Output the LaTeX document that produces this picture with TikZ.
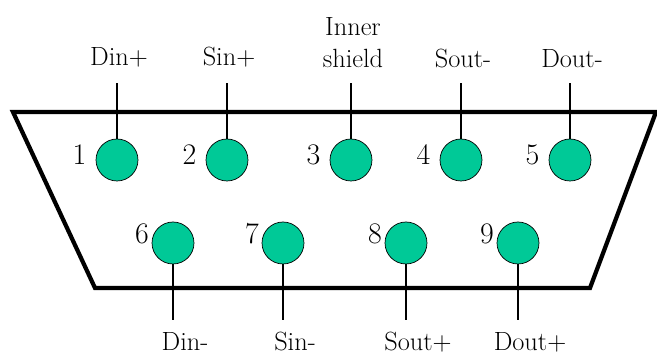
\documentclass[tikz,border=0pt]{standalone}
\usepackage{tikz}
\usetikzlibrary{positioning}

\definecolor{pingreen}{RGB}{0,201,151}

\begin{document}
\begin{tikzpicture}[x=0.02cm, y=-0.02cm,
    contact/.style={circle, draw=black, thin, fill=pingreen, minimum size=0.84cm, inner sep=0pt},
    shell/.style={line width=2.4pt, line join=miter},
    pinline/.style={line width=1.5pt},
    sig/.style={font=\fontsize{15}{18}\selectfont, align=center, inner sep=0pt},
    num/.style={font=\fontsize{17}{20}\selectfont, inner sep=0pt}]
  \useasboundingbox (0,0) rectangle (657,354);

  \draw[shell] (13,112) -- (656,112) -- (590,288) -- (95,288) -- cycle;

  \foreach \n/\x/\t in {1/117/Din+, 2/227/Sin+, 3/351/{Inner\\shield}, 4/461/Sout-, 5/570/Dout-} {
    \node[contact]                          (p\n) at (\x,160) {};
    \node[num, left=0.18cm of p\n, yshift=0.1cm] (n\n) {\n};
    \coordinate                             (e\n) at (\x,83);
    \node[sig, anchor=south]                (t\n) at (\x+2,68) {\t};
    \draw[pinline] (p\n) -- (e\n);
  }

  \foreach \n/\x/\t in {6/173/Din-, 7/283/Sin-, 8/406/Sout+, 9/518/Dout+} {
    \node[contact]                          (p\n) at (\x,243) {};
    \node[num, left=0.05cm of p\n, yshift=0.18cm] (n\n) {\n};
    \coordinate                             (e\n) at (\x,320);
    \node[sig, anchor=north]                (t\n) at (\x+12,332) {\t};
    \draw[pinline] (p\n) -- (e\n);
  }
\end{tikzpicture}
\end{document}
